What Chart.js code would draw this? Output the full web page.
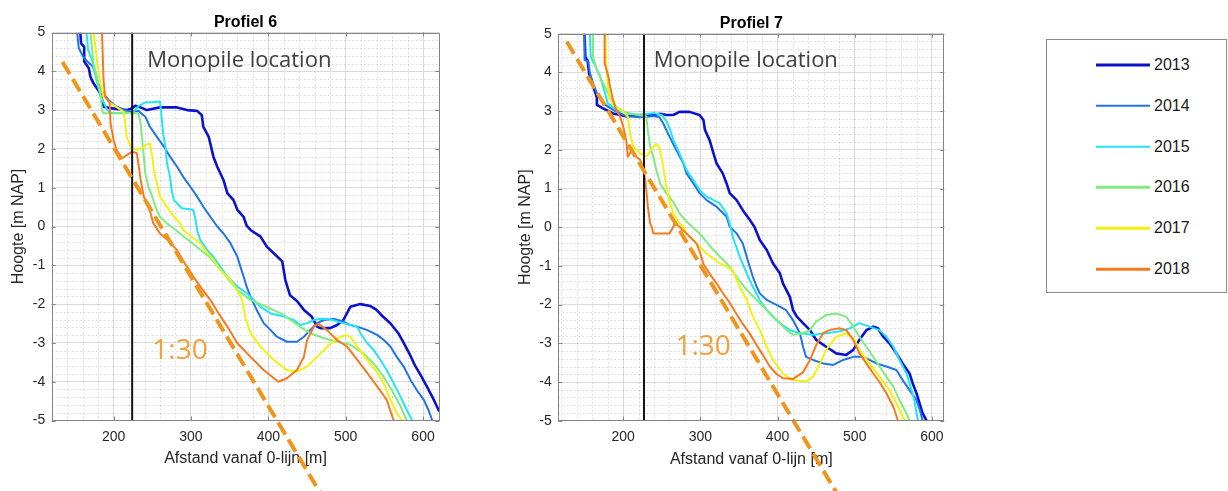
<!DOCTYPE html>
<html>
<head>
<meta charset="utf-8">
<title>Profiel 6 en 7</title>
<script src="https://cdn.jsdelivr.net/npm/chart.js@4.4.1/dist/chart.umd.min.js"></script>
<style>
    body { margin: 0; background: #fff; }
    #page { position: relative; width: 1228px; height: 491px; overflow: hidden; background: #fff; }
    .plot { position: absolute; top: 0; width: 460px; height: 491px; }
    #legend {
        position: absolute; left: 1046px; top: 39px; width: 181px; height: 254px;
        border: 1px solid #8a8a8a; box-sizing: border-box; background: #fff;
    }
    #legend .row { position: absolute; left: 49px; height: 0; }
    #legend .swatch { position: absolute; left: 0; top: 0; width: 54px; transform: translateY(-50%); }
    #legend .lbl {
        position: absolute; left: 58px; top: 0; transform: translateY(-50%);
        font: 16px "Liberation Sans", Arial, sans-serif; line-height: 1; color: #1a1a1a;
    }
</style>
</head>
<body>
<div id="page">
    <div class="plot" style="left:0"><canvas id="profiel6"></canvas></div>
    <div class="plot" style="left:500px"><canvas id="profiel7"></canvas></div>
    <div id="legend"></div>
</div>
<script>
// Metingen per jaar: [afstand vanaf 0-lijn (m), hoogte (m NAP)]

const years = ['2013', '2014', '2015', '2016', '2017', '2018'];
const yearColors = ['#0b12cf', '#1f74ec', '#22e4f6', '#80ec80', '#f2f20e', '#f57a1f'];

const xTickValues = [200, 300, 400, 500, 600];
const yTickValues = [-5, -4, -3, -2, -1, 0, 1, 2, 3, 4, 5];

// ---- Profiel 6 ----
const p6_2013 = [[157,5],[158,4.72],[162,4.63],[162,4.25],[168,4.08],[170,3.86],[174,3.69],[183,3.43],[187,3.09],[196,3.05],[217,3.0],[224,3.05],[228,3.11],[235,3.07],[243,3.0],[260,3.07],[282,3.07],[295,3.0],[308,2.98],[314,2.87],[316,2.57],[323,2.31],[329,1.8],[334,1.54],[342,1.2],[347,0.86],[355,0.68],[360,0.43],[368,0.25],[372,0.02],[377,-0.09],[390,-0.26],[398,-0.52],[407,-0.69],[418,-0.9],[422,-1.38],[428,-1.77],[437,-1.92],[446,-2.15],[456,-2.32],[463,-2.58],[467,-2.62],[480,-2.62],[489,-2.54],[497,-2.41],[506,-2.07],[519,-2.0],[532,-2.05],[540,-2.15],[547,-2.3],[558,-2.5],[568,-2.75],[575,-3.0],[583,-3.3],[590,-3.6],[596,-3.8],[605,-4.13],[614,-4.47],[621,-4.77]];
const p6_2014 = [[153,5],[155,4.6],[160,4.4],[166,4.25],[172,4.15],[176,4.0],[180,3.7],[186,3.45],[194,3.25],[203,3.1],[215,3.0],[224,2.95],[232,2.98],[241,2.83],[247,2.57],[256,2.31],[265,2.06],[273,1.8],[282,1.54],[290,1.28],[299,1.03],[308,0.77],[316,0.51],[325,0.25],[334,0],[342,-0.18],[351,-0.43],[360,-0.78],[364,-1.04],[368,-1.29],[372,-1.55],[377,-1.81],[385,-2.15],[394,-2.49],[403,-2.67],[411,-2.84],[424,-2.97],[437,-2.97],[446,-2.84],[454,-2.67],[463,-2.49],[472,-2.41],[485,-2.38],[497,-2.45],[506,-2.54],[515,-2.58],[528,-2.67],[541,-2.8],[549,-2.92],[558,-3.1],[566,-3.36],[575,-3.61],[584,-3.96],[592,-4.22],[601,-4.47],[607,-4.73],[612,-5]];
const p6_2015 = [[165,5],[167,4.55],[172,4.3],[174,4.1],[180,3.6],[183,3.39],[187,3.2],[192,3.0],[196,2.93],[210,2.92],[224,2.93],[232,3.1],[241,3.2],[250,3.2],[260,3.22],[262,2.83],[264,2.4],[267,2.06],[269,1.63],[273,1.28],[275,0.94],[278,0.68],[288,0.47],[303,0.43],[306,0.17],[308,-0.09],[312,-0.35],[321,-0.61],[329,-0.78],[338,-1.04],[347,-1.29],[360,-1.55],[372,-1.72],[381,-1.89],[390,-2.07],[403,-2.24],[420,-2.32],[433,-2.41],[441,-2.54],[450,-2.49],[459,-2.41],[467,-2.38],[480,-2.39],[489,-2.45],[497,-2.49],[506,-2.54],[515,-2.58],[519,-2.75],[528,-3.01],[536,-3.18],[545,-3.44],[553,-3.7],[562,-4.04],[571,-4.39],[579,-4.73],[586,-5]];
const p6_2016 = [[170,5],[172,4.6],[174,4.21],[179,3.78],[183,3.43],[185,3.0],[187,2.92],[217,2.92],[232,2.92],[235,2.66],[237,2.23],[239,1.8],[241,1.37],[245,1.03],[250,0.77],[254,0.51],[260,0.25],[269,0.08],[278,-0.05],[290,-0.25],[300,-0.4],[312,-0.6],[325,-0.8],[342,-1.21],[360,-1.64],[377,-1.89],[398,-2.07],[420,-2.28],[441,-2.58],[454,-2.75],[472,-2.88],[489,-2.97],[506,-3.05],[523,-3.27],[536,-3.53],[549,-3.87],[562,-4.3],[571,-4.64],[579,-5]];
const p6_2017 = [[174,5],[176,4.72],[179,4.2],[183,3.69],[187,3.35],[196,3.18],[206,3.05],[213,2.96],[215,2.66],[217,2.31],[222,2.06],[226,2.02],[230,1.97],[237,2.02],[241,2.1],[247,2.14],[250,1.8],[252,1.46],[256,1.11],[260,0.77],[269,0.51],[278,0.25],[286,0.08],[290,-0.09],[300,-0.25],[312,-0.43],[320,-0.65],[329,-0.86],[338,-1.12],[351,-1.38],[362,-1.72],[366,-1.89],[370,-2.32],[377,-2.75],[390,-3.1],[407,-3.44],[424,-3.7],[437,-3.74],[450,-3.61],[463,-3.36],[476,-3.1],[489,-2.88],[500,-2.8],[506,-2.84],[515,-3.1],[528,-3.44],[541,-3.78],[549,-4.04],[558,-4.47],[566,-4.81],[573,-5]];
const p6_2018 = [[185,5],[186,4.4],[187,3.78],[189,3.35],[195,3.18],[196,2.66],[200,2.23],[204,1.97],[211,1.76],[217,1.84],[224,1.93],[230,1.89],[232,1.63],[235,1.2],[239,0.77],[247,0.4],[251,0.1],[260,-0.18],[270,-0.35],[282,-0.61],[292,-0.95],[303,-1.29],[314,-1.6],[325,-1.89],[336,-2.25],[347,-2.58],[360,-3.01],[377,-3.36],[394,-3.7],[413,-4.0],[424,-3.91],[437,-3.7],[446,-3.36],[450,-2.93],[459,-2.58],[465,-2.51],[476,-2.67],[489,-2.93],[502,-3.1],[515,-3.44],[528,-3.78],[541,-4.13],[553,-4.47],[562,-5]];

// ---- Profiel 7 ----
const p7_2013 = [[150,5],[151,4.4],[154,4.3],[156,3.95],[161,3.65],[166,3.35],[166,3.16],[174,3.07],[187,2.94],[204,2.87],[222,2.9],[239,2.9],[248,2.93],[256,2.9],[265,2.9],[273,2.98],[286,2.98],[299,2.9],[304,2.77],[306,2.51],[312,2.25],[317,1.91],[321,1.65],[329,1.39],[334,1.13],[338,0.88],[347,0.7],[355,0.44],[364,0.19],[370,0.01],[377,-0.33],[386,-0.59],[394,-0.93],[403,-1.19],[407,-1.45],[416,-1.8],[420,-2.14],[425,-2.31],[433,-2.48],[442,-2.66],[450,-2.91],[463,-3.09],[476,-3.26],[489,-3.3],[498,-3.17],[506,-2.91],[515,-2.66],[524,-2.57],[530,-2.61],[537,-2.83],[545,-3.0],[554,-3.26],[562,-3.52],[571,-3.78],[575,-4.03],[580,-4.29],[584,-4.55],[588,-4.81],[593,-5]];
const p7_2014 = [[150,5],[150,4.32],[155,4.28],[157,3.98],[161,3.72],[166,3.46],[174,3.2],[187,3.03],[204,2.87],[222,2.84],[239,2.87],[247,2.84],[252,2.68],[260,2.34],[269,1.99],[278,1.65],[282,1.39],[291,1.13],[299,0.88],[308,0.7],[321,0.53],[334,0.27],[338,0.01],[347,-0.16],[355,-0.42],[360,-0.76],[364,-1.02],[368,-1.28],[373,-1.54],[377,-1.71],[386,-1.88],[403,-2.05],[411,-2.14],[420,-2.4],[429,-2.74],[433,-3.09],[437,-3.35],[446,-3.43],[459,-3.52],[472,-3.56],[485,-3.43],[498,-3.35],[511,-3.35],[519,-3.43],[528,-3.52],[541,-3.6],[554,-3.69],[562,-3.95],[571,-4.21],[580,-4.47],[584,-4.7],[588,-5]];
const p7_2015 = [[157,5],[158,4.4],[163,4.2],[170,3.9],[176,3.5],[180,3.2],[190,3.05],[205,2.95],[222,2.9],[240,2.95],[250,2.9],[256,2.75],[261,2.51],[265,2.25],[273,1.91],[282,1.48],[291,1.22],[299,0.96],[308,0.79],[325,0.62],[334,0.36],[338,0.1],[342,-0.25],[351,-0.76],[360,-1.19],[368,-1.54],[377,-1.88],[386,-2.14],[394,-2.31],[403,-2.48],[416,-2.66],[429,-2.74],[446,-2.78],[463,-2.74],[481,-2.69],[494,-2.61],[506,-2.48],[519,-2.57],[532,-2.66],[541,-2.83],[550,-3.09],[558,-3.43],[567,-3.78],[572,-4.1],[577,-4.45],[580,-4.8],[582,-5]];
const p7_2016 = [[161,5],[161,4.4],[166,4.06],[174,3.72],[183,3.37],[191,3.11],[204,2.94],[222,2.9],[230,2.86],[232,2.51],[235,2.08],[239,1.82],[243,1.48],[248,1.13],[256,0.88],[265,0.65],[273,0.36],[282,0.15],[299,-0.16],[317,-0.59],[334,-0.93],[347,-1.28],[360,-1.62],[373,-1.88],[386,-2.14],[399,-2.4],[412,-2.66],[420,-2.78],[433,-2.74],[442,-2.66],[450,-2.44],[463,-2.27],[476,-2.23],[489,-2.31],[498,-2.57],[506,-2.83],[515,-3.09],[524,-3.35],[532,-3.6],[541,-3.86],[550,-4.12],[558,-4.47],[567,-4.81],[571,-5]];
const p7_2017 = [[177,5],[178,4.2],[180,3.7],[183,3.3],[190,3.1],[200,3.0],[206,2.86],[209,2.42],[213,2.08],[222,1.91],[230,1.82],[239,2.08],[243,2.15],[247,2.05],[252,1.56],[256,1.05],[260,0.66],[265,0.36],[273,0.1],[278,0.01],[282,-0.16],[299,-0.5],[308,-0.68],[325,-0.93],[342,-1.11],[351,-1.54],[360,-1.88],[368,-2.31],[377,-2.66],[386,-3.09],[394,-3.43],[407,-3.78],[420,-3.95],[437,-3.99],[446,-3.86],[455,-3.52],[463,-3.17],[476,-2.83],[489,-2.74],[500,-2.91],[506,-3.17],[519,-3.52],[532,-3.86],[545,-4.21],[554,-4.55],[562,-4.9],[566,-5]];
const p7_2018 = [[176,5],[176,4.24],[181,3.89],[183,3.63],[187,3.29],[191,3.03],[196,2.86],[200,2.6],[204,2.25],[206,1.82],[210,1.95],[213,1.91],[217,1.82],[222,1.74],[226,1.56],[228,1.3],[230,0.96],[232,0.53],[235,0.1],[237,0.01],[239,-0.16],[248,-0.16],[260,-0.16],[265,0.01],[267,0.1],[273,0.01],[282,-0.16],[295,-0.42],[300,-0.68],[304,-0.95],[312,-1.2],[321,-1.45],[329,-1.7],[338,-1.95],[347,-2.25],[355,-2.5],[364,-2.75],[373,-3.05],[381,-3.3],[390,-3.6],[399,-3.8],[407,-3.9],[420,-3.92],[433,-3.75],[442,-3.43],[450,-3.05],[459,-2.74],[467,-2.66],[480,-2.61],[489,-2.66],[498,-2.91],[506,-3.26],[515,-3.52],[524,-3.78],[532,-4.0],[541,-4.29],[550,-4.64],[556,-5]];

// helling 1:30 en positie monopile per profiel
const slope6 = [[134, 4.24], [470, -6.96]];
const slope7 = [[127, 4.79], [480, -6.98]];
const monopile6 = 224;
const monopile7 = 227;

const AXIS_FONT = '"Liberation Sans", Arial, sans-serif';
const NOTE_FONT = '"Open Sans", "Noto Sans", sans-serif';
const TEXT_COLOR = '#262626';

// minor grid (stippel) + kader met tickjes naar binnen + teksten in de grafiek
const profielDecor = {
    id: 'profielDecor',
    beforeDatasetsDraw(chart) {
        const { ctx, chartArea: a, scales: { x, y } } = chart;
        ctx.save();
        ctx.strokeStyle = 'rgba(0,0,0,0.13)';
        ctx.lineWidth = 1;
        ctx.setLineDash([2, 2]);
        ctx.beginPath();
        for (let v = Math.ceil(x.min / 20) * 20; v < x.max; v += 20) {
            if (v % 100 === 0) continue;
            const px = Math.round(x.getPixelForValue(v)) + 0.5;
            ctx.moveTo(px, a.top);
            ctx.lineTo(px, a.bottom);
        }
        for (let i = -24; i <= 24; i++) {
            if (i % 5 === 0) continue;
            const py = Math.round(y.getPixelForValue(i * 0.2)) + 0.5;
            ctx.moveTo(a.left, py);
            ctx.lineTo(a.right, py);
        }
        ctx.stroke();
        ctx.restore();
    },
    afterDatasetsDraw(chart, args, opts) {
        const { ctx, chartArea: a, scales: { x, y } } = chart;
        ctx.save();
        ctx.strokeStyle = '#858585';
        ctx.lineWidth = 1;
        ctx.strokeRect(Math.round(a.left) + 0.5, Math.round(a.top) + 0.5,
            Math.round(a.width) - 1, Math.round(a.height) - 1);
        ctx.beginPath();
        x.ticks.forEach(t => {
            const px = Math.round(x.getPixelForValue(t.value)) + 0.5;
            ctx.moveTo(px, a.bottom); ctx.lineTo(px, a.bottom - 4);
            ctx.moveTo(px, a.top); ctx.lineTo(px, a.top + 4);
        });
        y.ticks.forEach(t => {
            const py = Math.round(y.getPixelForValue(t.value)) + 0.5;
            ctx.moveTo(a.left, py); ctx.lineTo(a.left + 4, py);
            ctx.moveTo(a.right, py); ctx.lineTo(a.right - 4, py);
        });
        ctx.stroke();

        ctx.textBaseline = 'middle';
        ctx.textAlign = 'left';
        (opts.notes || []).forEach(n => {
            ctx.font = n.size + 'px ' + NOTE_FONT;
            ctx.fillStyle = n.color;
            ctx.fillText(n.text, x.getPixelForValue(n.x), y.getPixelForValue(n.y));
        });
        ctx.restore();
    }
};

function makeDatasets(series, slope, monopile) {
    const sets = [
        {
            label: '1:30', data: slope, borderColor: '#f0951c', borderWidth: 4,
            borderDash: [14, 6], borderCapStyle: 'butt', clip: false, order: 0
        },
        {
            label: 'Monopile', data: [[monopile, -5], [monopile, 5]],
            borderColor: '#141414', borderWidth: 2, order: 1
        }
    ];
    series.forEach((data, i) => {
        sets.push({
            label: years[i], data: data,
            borderColor: yearColors[i],
            borderWidth: i === 0 ? 2.6 : 2,
            borderJoinStyle: 'round',
            order: 7 - i
        });
    });
    return sets;
}

function makeChart(canvasId, cfg) {
    const ctx = document.getElementById(canvasId).getContext('2d');
    return new Chart(ctx, {
        type: 'scatter',
        data: { datasets: makeDatasets(cfg.series, cfg.slope, cfg.monopile) },
        options: {
            responsive: true,
            maintainAspectRatio: false,
            animation: false,
            showLine: true,
            elements: { point: { radius: 0, hoverRadius: 0 }, line: { tension: 0 } },
            layout: { padding: cfg.padding },
            scales: {
                x: {
                    type: 'linear', min: cfg.xRange[0], max: cfg.xRange[1],
                    afterBuildTicks: s => { s.ticks = xTickValues.map(v => ({ value: v })); },
                    afterFit: s => { s.height = 50; },
                    ticks: { padding: 8, color: TEXT_COLOR, font: { size: 14, family: AXIS_FONT } },
                    grid: { color: '#dadada', drawTicks: false },
                    border: { display: false },
                    title: {
                        display: true, text: 'Afstand vanaf 0-lijn [m]', color: TEXT_COLOR,
                        font: { size: 16, family: AXIS_FONT }, padding: { top: 0, bottom: 2 }
                    }
                },
                y: {
                    type: 'linear', min: -5, max: 5,
                    afterBuildTicks: s => { s.ticks = yTickValues.map(v => ({ value: v })); },
                    afterFit: s => { s.width = cfg.yAxisWidth; },
                    ticks: { padding: 6.5, color: TEXT_COLOR, font: { size: 14, family: AXIS_FONT } },
                    grid: { color: '#dadada', drawTicks: false },
                    border: { display: false },
                    title: {
                        display: true, text: 'Hoogte [m NAP]', color: TEXT_COLOR,
                        font: { size: 16, family: AXIS_FONT }, padding: { top: cfg.yTitlePad, bottom: 0 }
                    }
                }
            },
            plugins: {
                legend: { display: false },
                tooltip: { enabled: false },
                title: {
                    display: true, text: cfg.title, fullSize: false, color: '#000',
                    font: { size: 16, weight: 'bold', family: AXIS_FONT },
                    padding: cfg.titlePad
                },
                profielDecor: { notes: cfg.notes }
            }
        },
        plugins: [profielDecor]
    });
}

makeChart('profiel6', {
    title: 'Profiel 6',
    series: [p6_2013, p6_2014, p6_2015, p6_2016, p6_2017, p6_2018],
    slope: slope6, monopile: monopile6,
    xRange: [120, 621],
    padding: { left: 0, top: 0, right: 20.7, bottom: 20.5 },
    yAxisWidth: 51.7, yTitlePad: 9.4,
    titlePad: { top: 12.5, bottom: 0.8 },
    notes: [
        { text: 'Monopile location', x: 243.6, y: 4.27, size: 22, color: '#404040' },
        { text: '1:30', x: 250, y: -3.2, size: 28, color: '#f0a23c' }
    ]
});

makeChart('profiel7', {
    title: 'Profiel 7',
    series: [p7_2013, p7_2014, p7_2015, p7_2016, p7_2017, p7_2018],
    slope: slope7, monopile: monopile7,
    xRange: [116, 616],
    padding: { left: 0, top: 0, right: 15.7, bottom: 20.3 },
    yAxisWidth: 58.3, yTitlePad: 16.1,
    titlePad: { top: 14.2, bottom: 0.3 },
    notes: [
        { text: 'Monopile location', x: 239.7, y: 4.29, size: 22, color: '#404040' },
        { text: '1:30', x: 267.8, y: -3.1, size: 28, color: '#f0a23c' }
    ]
});

// legenda rechts
const legendBox = document.getElementById('legend');
years.forEach((yr, i) => {
    const row = document.createElement('div');
    row.className = 'row';
    row.style.top = (25 + i * 40.8) + 'px';
    row.innerHTML = '<span class="swatch" style="background:' + yearColors[i] +
        ';height:' + (i === 0 ? 3 : 2.5) + 'px"></span><span class="lbl">' + yr + '</span>';
    legendBox.appendChild(row);
});
</script>
</body>
</html>
